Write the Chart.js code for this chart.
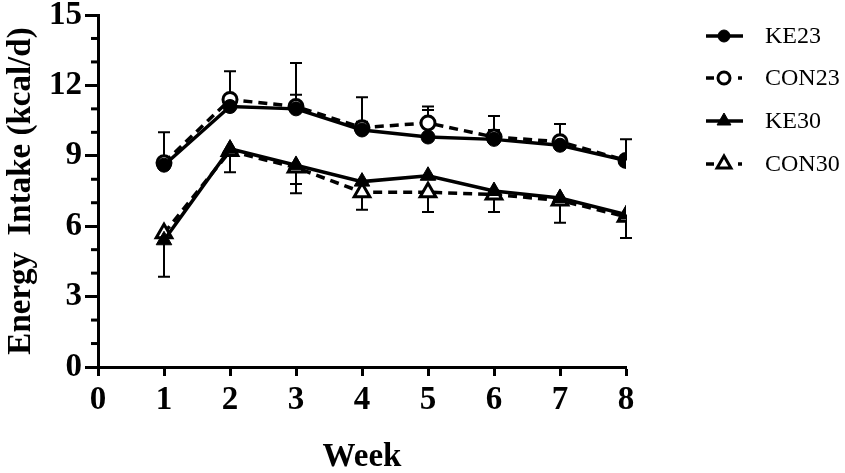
<!DOCTYPE html>
<html>
<head>
<meta charset="utf-8">
<script src="https://cdn.jsdelivr.net/npm/chart.js@4.4.0/dist/chart.umd.min.js"></script>
<style>
  html, body { margin: 0; padding: 0; background: #fff; }
  #wrap { width: 845px; height: 473px; }
</style>
</head>
<body>
<div id="wrap"><canvas id="myChart"></canvas></div>
<script>
const weeks = [1, 2, 3, 4, 5, 6, 7, 8];
const ke23  = [8.6, 11.1, 11.0, 10.1, 9.8, 9.7, 9.45, 8.8];
const con23 = [8.7, 11.4, 11.1, 10.2, 10.4, 9.8, 9.6, 8.8];
const ke30  = [5.4, 9.3, 8.6, 7.9, 8.15, 7.5, 7.2, 6.5];
const con30 = [5.7, 9.2, 8.5, 7.45, 7.45, 7.35, 7.1, 6.4];
// error bars are one-sided: up for the 23 groups, down for the 30 groups
const ke23Err  = [0, 0, 0.6, 1.4, 1.15, 1.0, 0, 0.9];
const con23Err = [1.3, 1.2, 1.85, 0.25, 0.7, 0.3, 0.75, 0];
const ke30Err  = [1.55, 1.0, 0.8, 0, 0, 0, 0, 1.0];
const con30Err = [0, 0, 1.1, 0.75, 0.85, 0.75, 0.95, 0];
const yMax = 15;

const black = '#000';
const serif = "'Liberation Serif', 'Times New Roman', serif";

function pts(arr) {
  return weeks.map((w, i) => ({ x: w, y: arr[i] }));
}

function makeSet(label, vals, err, dir, dashed, style) {
  const open = dashed;
  return {
    label: label,
    data: pts(vals),
    err: err,
    dir: dir,
    borderColor: black,
    borderWidth: 3.5,
    borderDash: dashed ? [9, 6] : [],
    pointStyle: style,
    pointRadius: style == 'triangle' ? 9 : 7,
    pointBackgroundColor: open ? '#fff' : black,
    pointBorderColor: black,
    pointBorderWidth: open ? 3 : 1,
    tension: 0
  };
}

// error bars drawn from the y scale
const errorBars = {
  id: 'errorBars',
  beforeDatasetsDraw(chart) {
    const ctx = chart.ctx, x = chart.scales.x, y = chart.scales.y;
    ctx.save();
    ctx.strokeStyle = black;
    ctx.lineWidth = 2;
    chart.data.datasets.forEach(ds => {
      ds.err.forEach((e, i) => {
        if (!e) return;
        const px = x.getPixelForValue(ds.data[i].x);
        const p0 = y.getPixelForValue(ds.data[i].y);
        const p1 = y.getPixelForValue(ds.data[i].y + ds.dir * e);
        ctx.beginPath();
        ctx.moveTo(px, p0); ctx.lineTo(px, p1);
        ctx.moveTo(px - 6, p1); ctx.lineTo(px + 6, p1);
        ctx.stroke();
      });
    });
    ctx.restore();
  }
};

// minor ticks on y every 1 unit
const minorTicks = {
  id: 'minorTicks',
  afterDraw(chart) {
    const ctx = chart.ctx, y = chart.scales.y, x0 = chart.chartArea.left;
    ctx.save();
    ctx.strokeStyle = black;
    ctx.lineWidth = 3;
    for (let v = 0; v <= yMax; v++) {
      if (v % 3 === 0) continue;
      const py = y.getPixelForValue(v);
      ctx.beginPath(); ctx.moveTo(x0 - 7, py); ctx.lineTo(x0, py); ctx.stroke();
    }
    ctx.restore();
  }
};

// legend on the right: line + marker + label
const sideLegend = {
  id: 'sideLegend',
  afterDraw(chart) {
    const ctx = chart.ctx;
    const rows = [36, 78, 121, 164];
    ctx.save();
    chart.data.datasets.forEach((ds, i) => {
      const yy = rows[i];
      ctx.strokeStyle = black;
      ctx.lineWidth = 3.5;
      ctx.beginPath();
      if (ds.borderDash.length) {
        ctx.moveTo(706, yy); ctx.lineTo(714, yy);
        ctx.moveTo(738, yy); ctx.lineTo(742, yy);
      } else {
        ctx.moveTo(706, yy); ctx.lineTo(743, yy);
      }
      ctx.stroke();
      ctx.fillStyle = ds.pointBackgroundColor;
      ctx.lineWidth = ds.pointBorderWidth;
      Chart.helpers.drawPoint(ctx, {
        pointStyle: ds.pointStyle,
        radius: ds.pointStyle == 'triangle' ? 8 : 6,
        borderWidth: ds.pointBorderWidth
      }, 724, yy);
      ctx.fillStyle = black;
      ctx.font = '24px ' + serif;
      ctx.textBaseline = 'middle';
      ctx.fillText(ds.label, 765, yy + 1);
    });
    ctx.restore();
  }
};

const ctx = document.getElementById('myChart').getContext('2d');

new Chart(ctx, {
  type: 'line',
  data: {
    datasets: [
      makeSet('KE23', ke23, ke23Err, 1, false, 'circle'),
      makeSet('CON23', con23, con23Err, 1, true, 'circle'),
      makeSet('KE30', ke30, ke30Err, -1, false, 'triangle'),
      makeSet('CON30', con30, con30Err, -1, true, 'triangle')
    ]
  },
  options: {
    responsive: true,
    maintainAspectRatio: false,
    animation: false,
    layout: { padding: { left: 0, top: 15, right: 219, bottom: 0 } },
    plugins: {
      legend: { display: false },
      tooltip: { enabled: false }
    },
    scales: {
      x: {
        type: 'linear',
        min: 0,
        max: 8,
        ticks: { stepSize: 1, color: black, padding: 5, font: { family: serif, size: 33, weight: 'bold' } },
        grid: { drawOnChartArea: false, drawTicks: true, tickLength: 9, tickColor: black, tickWidth: 3 },
        border: { color: black, width: 3 },
        title: { display: true, text: 'Week', color: black, padding: { top: 0, bottom: -4 }, font: { family: serif, size: 33, weight: 'bold' } },
        afterFit: s => { s.height = 106; }
      },
      y: {
        min: 0,
        max: yMax,
        ticks: { stepSize: 3, color: black, padding: 3, font: { family: serif, size: 33, weight: 'bold' } },
        grid: { drawOnChartArea: false, drawTicks: true, tickLength: 13, tickColor: black, tickWidth: 3 },
        border: { color: black, width: 3 },
        title: { display: true, text: 'Energy  Intake (kcal/d)', color: black, padding: { top: 2, bottom: 0 }, font: { family: serif, size: 33, weight: 'bold' } },
        afterFit: s => { s.width = 98; s.paddingTop = 0; s.paddingBottom = 0; }
      }
    }
  },
  plugins: [errorBars, minorTicks, sideLegend]
});
</script>
</body>
</html>
